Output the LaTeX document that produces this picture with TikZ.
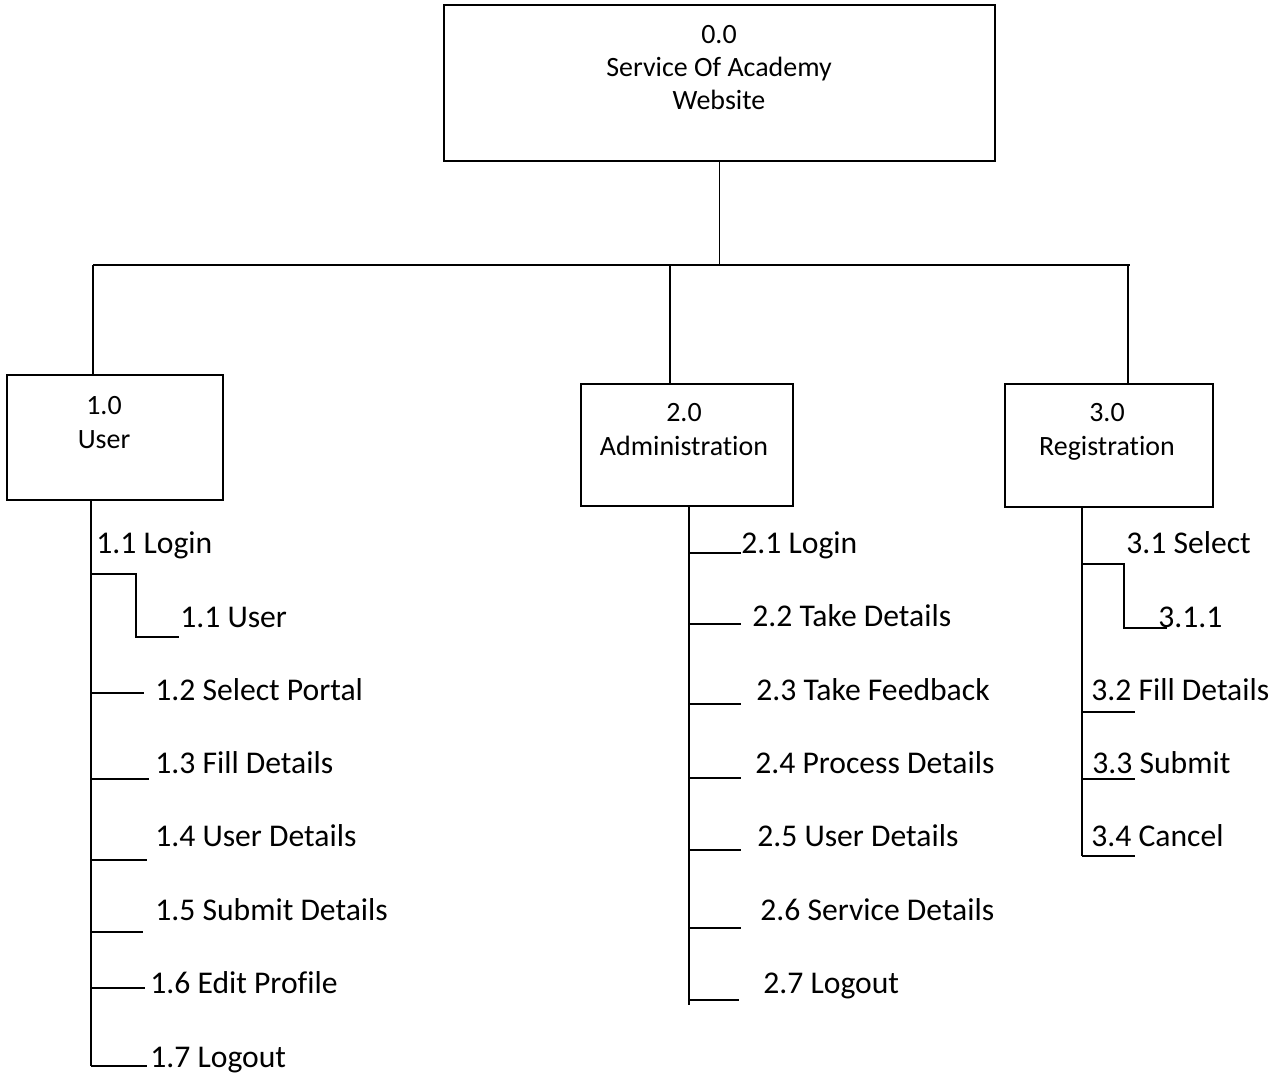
\documentclass[tikz,border=0pt]{standalone}
\usepackage{fontspec}
\setmainfont{Carlito}[Ligatures=NoCommon]
\usetikzlibrary{positioning}

\begin{document}
\begin{tikzpicture}[x=0.2mm,y=-0.2mm]
  % some styles
  \tikzset{
    box/.style={draw, line width=1.1pt, inner sep=0mm, outer sep=0mm},
    boxtext/.style={anchor=base, align=center, inner sep=0mm,
      font=\fontsize{15.9}{19}\selectfont},
    item/.style={anchor=base west, inner sep=0mm,
      font=\fontsize{18}{21.6}\selectfont},
    link/.style={line width=1.1pt},
  }
  \useasboundingbox (0,0) rectangle (1280,1074);

  % the boxes (text anchored at the baseline of its last line)
  \node[box, minimum width=11.02cm, minimum height=3.12cm] (root) at (719.5,83) {};
  \node[boxtext] (root-txt) at (719,110) {0.0\\Service Of Academy\\Website};
  \node[box, minimum width=4.32cm, minimum height=2.5cm] (u1) at (115,437.5) {};
  \node[boxtext] (u1-txt) at (104,448) {1.0\\User};
  \node[box, minimum width=4.24cm, minimum height=2.44cm] (u2) at (687,445) {};
  \node[boxtext] (u2-txt) at (684,455) {2.0\\Administration};
  \node[box, minimum width=4.16cm, minimum height=2.46cm] (u3) at (1109,445.5) {};
  \node[boxtext] (u3-txt) at (1107,455) {3.0\\Registration};

  % the bus between the levels
  \coordinate (busL) at (93,265);
  \coordinate (busR) at (1130,265);
  \coordinate (d2) at (670,265);
  \coordinate (d3) at (1128,265);
  \draw[link] (busL) -- (busR);
  \draw[link] (root.south) -- (root.south |- busL);
  \draw[link] (busL) -- (busL |- u1.north);
  \draw[link] (d2) -- (d2 |- u2.north);
  \draw[link] (d3) -- (d3 |- u3.north);

  % 1.0 User
  \coordinate (s1) at (91,1066);
  \draw[link] (s1 |- u1.south) -- (s1);
  \node[item] (i1-1) at (96,553) {1.1 Login};
  \node[item] (i1-1a) at (180,627) {1.1 User};
  \coordinate (k1) at (136,574);
  \coordinate (e1) at (179,637);
  \draw[link] (s1 |- k1) -- (k1) |- (e1);
  \foreach \n/\lx/\ly/\by/\bx/\txt in {
    2/155/700/693/144/Select Portal,
    3/155/773/779/149/Fill Details,
    4/155/846/860/147/User Details,
    5/155/920/932/143/Submit Details,
    6/150/993/988/145/Edit Profile,
    7/150/1067/1066/147/Logout}{
    \node[item] (i1-\n) at (\lx,\ly) {1.\n\ \txt};
    \coordinate (b1-\n) at (\bx,\by);
    \draw[link] (s1 |- b1-\n) -- (b1-\n);
  }

  % 2.0 Administration
  \coordinate (s2) at (689,1005);
  \draw[link] (s2 |- u2.south) -- (s2);
  \foreach \n/\lx/\ly/\by/\bx/\txt in {
    1/741/553/553/741/Login,
    2/752/626/624/741/Take Details,
    3/756/700/704/741/Take Feedback,
    4/755/773/778/741/Process Details,
    5/757/846/850/741/User Details,
    6/760/920/928/741/Service Details,
    7/763/993/1000/739/Logout}{
    \node[item] (i2-\n) at (\lx,\ly) {2.\n\ \txt};
    \coordinate (b2-\n) at (\bx,\by);
    \draw[link] (s2 |- b2-\n) -- (b2-\n);
  }

  % 3.0 Registration
  \coordinate (s3) at (1082,856);
  \draw[link] (s3 |- u3.south) -- (s3);
  \node[item] (i3-1) at (1126,553) {3.1 Select};
  \node[item] (i3-1a) at (1158,627) {3.1.1};
  \coordinate (k3) at (1124,564);
  \coordinate (e3) at (1167,628);
  \draw[link] (s3 |- k3) -- (k3) |- (e3);
  \foreach \n/\lx/\ly/\by/\txt in {
    2/1091/700/712/Fill Details,
    3/1092/773/779/Submit,
    4/1091/846/856/Cancel}{
    \node[item] (i3-\n) at (\lx,\ly) {3.\n\ \txt};
    \coordinate (b3-\n) at (1135,\by);
    \draw[link] (s3 |- b3-\n) -- (b3-\n);
  }
\end{tikzpicture}
\end{document}
